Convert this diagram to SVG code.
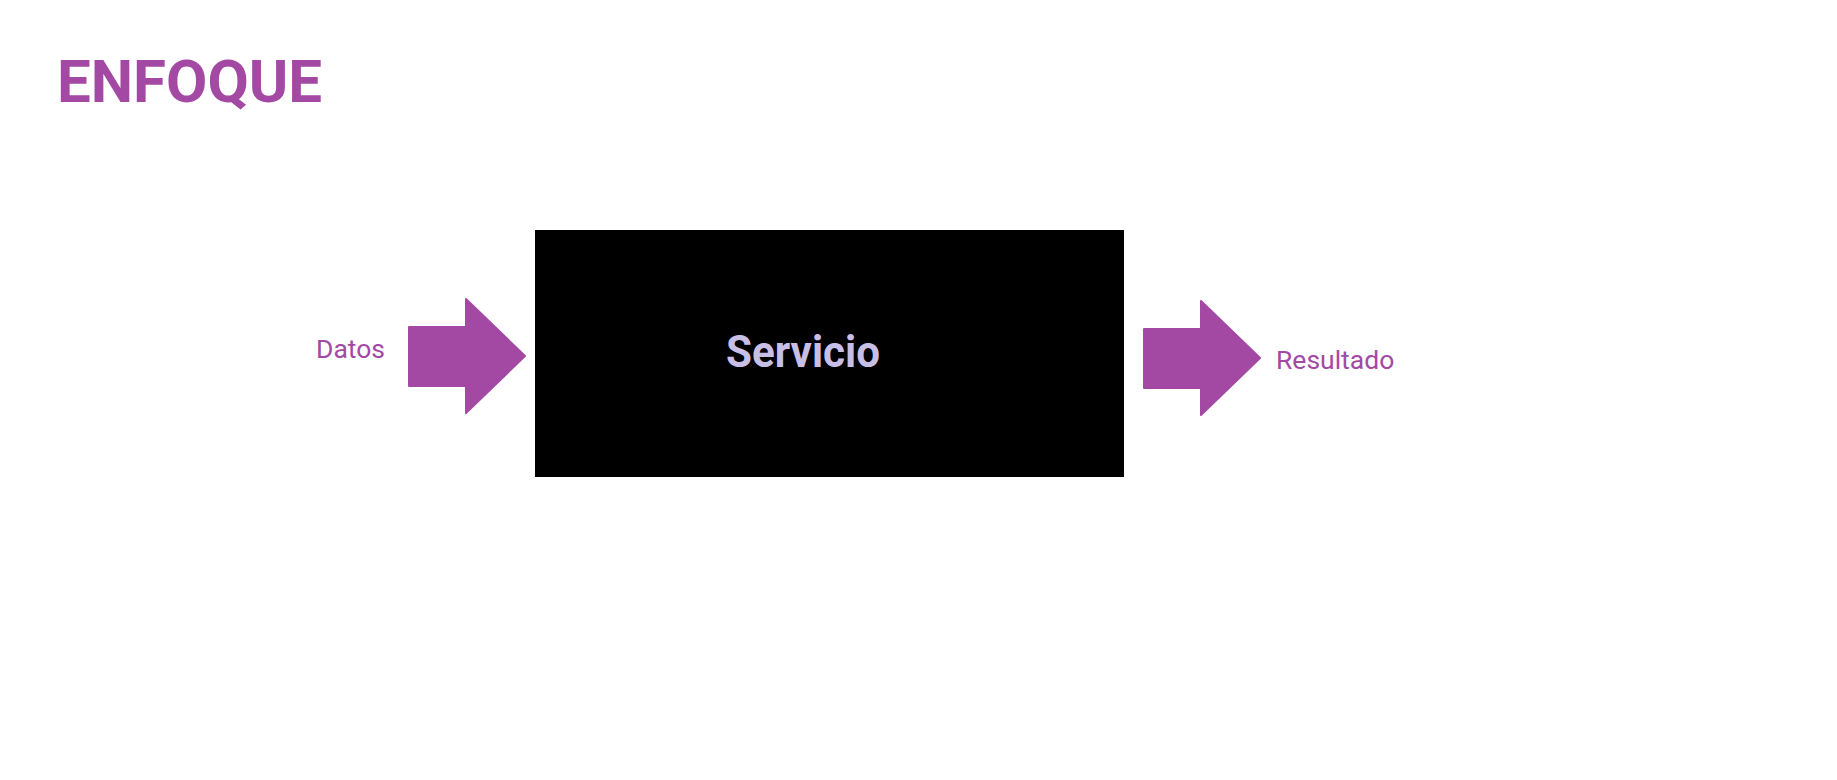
<svg xmlns="http://www.w3.org/2000/svg" width="1837" height="780" viewBox="0 0 1837 780">
<style>
.lbl{font-family:Roboto,"Liberation Sans",sans-serif;fill:#A349A4;font-size:26.5px}
.arrow{fill:#A349A4;stroke:#A349A4;stroke-width:2;stroke-linejoin:round}
</style>
<rect width="1837" height="780" fill="#ffffff"/>
<text id="title" x="57" y="102" font-family="Roboto,'Liberation Sans',sans-serif" font-weight="bold" font-size="60" fill="#A349A4">ENFOQUE</text>
<g id="servicio">
<rect x="535" y="230" width="589" height="247" fill="#000000"/>
<text x="726" y="367" font-family="Roboto,'Liberation Sans',sans-serif" font-weight="bold" font-size="44" fill="#C8BFE7" textLength="154" lengthAdjust="spacingAndGlyphs">Servicio</text>
</g>
<g id="connectors">
<g id="datos-arrow">
<path class="arrow" d="M409,327 H466 V299 L525,356 L466,413 V386 H409 Z"/>
</g>
<g id="resultado-arrow">
<path class="arrow" d="M1144,329 H1201 V301 L1260,358 L1201,415 V388 H1144 Z"/>
</g>
</g>
<g id="datos"><text class="lbl" x="316" y="358">Datos</text></g>
<g id="resultado"><text class="lbl" x="1276" y="369">Resultado</text></g>
</svg>
